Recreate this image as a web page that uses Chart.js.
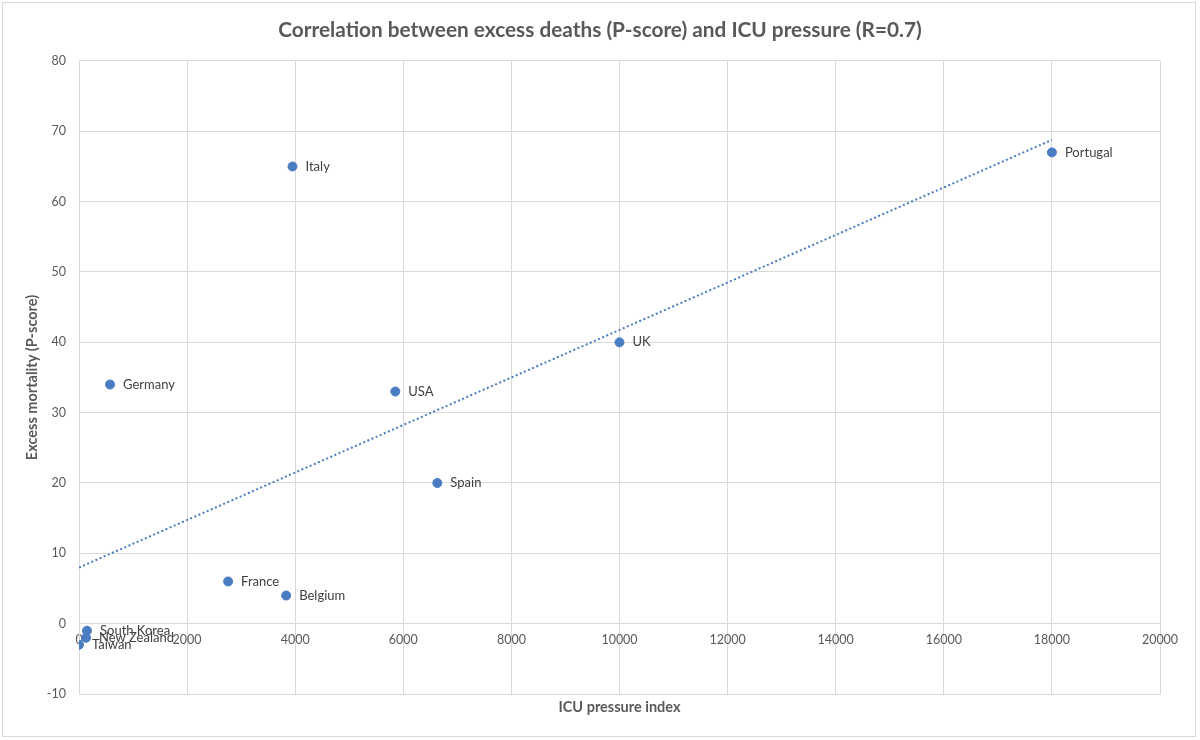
<!DOCTYPE html>
<html>
<head>
<meta charset="utf-8">
<script src="https://cdn.jsdelivr.net/npm/chart.js@4.4.1/dist/chart.umd.min.js"></script>
<style>
  html, body { margin: 0; padding: 0; background: #fff; }
  #wrap { position: relative; width: 1200px; height: 740px; }
</style>
</head>
<body>
<div id="wrap"><canvas id="chart" width="1200" height="740"></canvas></div>
<script>
// Data
const countries = ['Taiwan', 'New Zealand', 'South Korea', 'Germany', 'France', 'Belgium', 'Italy', 'USA', 'Spain', 'UK', 'Portugal'];
const icuIndex = [0, 130, 148, 574, 2759, 3833, 3950, 5852, 6630, 10000, 18000];
const pScore = [-3, -2, -1, 34, 6, 4, 65, 33, 20, 40, 67];
const trendX = [0, 18000];

const points = icuIndex.map((x, i) => ({ x: x, y: pScore[i] }));

// least squares trendline, as in the spreadsheet
const n = icuIndex.length;
const mx = icuIndex.reduce((a, b) => a + b, 0) / n;
const my = pScore.reduce((a, b) => a + b, 0) / n;
let sxy = 0, sxx = 0;
icuIndex.forEach((x, i) => {
  sxy += (x - mx) * (pScore[i] - my);
  sxx += (x - mx) * (x - mx);
});
const slope = sxy / sxx;
const intercept = my - slope * mx;
const trend = trendX.map(x => ({ x: x, y: intercept + slope * x }));

const blue = '#4A7CC2';
const gridColor = '#d9d9d9';
const font = 'Lato';

// country names next to each point
const pointLabels = {
  id: 'pointLabels',
  afterDatasetsDraw(chart) {
    const ctx = chart.ctx;
    const meta = chart.getDatasetMeta(0);
    ctx.save();
    ctx.font = '13px ' + font;
    ctx.fillStyle = '#404040';
    ctx.textBaseline = 'middle';
    ctx.textAlign = 'left';
    meta.data.forEach((el, i) => {
      ctx.fillText(countries[i], el.x + 13, el.y);
    });
    ctx.restore();
  }
};

// thin frame round the whole chart
const frame = {
  id: 'frame',
  beforeDraw(chart) {
    const ctx = chart.ctx;
    ctx.save();
    ctx.strokeStyle = '#d9d9d9';
    ctx.lineWidth = 1;
    ctx.strokeRect(2.5, 2.5, 1193, 734);
    ctx.restore();
  }
};

new Chart(document.getElementById('chart'), {
  type: 'scatter',
  data: {
    datasets: [{
      label: 'P-score',
      data: points,
      backgroundColor: blue,
      borderColor: blue,
      pointRadius: 4.5,
      order: 1
    }, {
      type: 'line',
      label: 'Trend',
      data: trend,
      borderColor: blue,
      borderWidth: 2,
      borderDash: [2, 2.5],
      pointRadius: 0,
      fill: false,
      order: 2
    }]
  },
  options: {
    responsive: false,
    animation: false,
    devicePixelRatio: 1,
    // equal side padding keeps the title centred on the page
    layout: { padding: { left: 40, right: 40, top: 0, bottom: 0 } },
    plugins: {
      legend: { display: false },
      tooltip: { enabled: false },
      title: {
        display: true,
        text: 'Correlation between excess deaths (P-score) and ICU pressure (R=0.7)',
        color: '#595959',
        font: { family: font, size: 20.8, weight: 'bold', lineHeight: 1.2 },
        padding: { top: 18, bottom: 18 }
      }
    },
    scales: {
      x: {
        type: 'linear',
        position: 'bottom',
        min: 0,
        max: 20000,
        ticks: { display: false, stepSize: 2000 },
        grid: { color: gridColor, drawTicks: false },
        border: { color: gridColor },
        title: {
          display: true,
          text: 'ICU pressure index',
          color: '#595959',
          font: { family: font, size: 14.5, weight: 'bold', lineHeight: 1.2 },
          padding: { top: 0, bottom: 24.3 }
        },
        afterFit(scale) { scale.height = 46; }
      },
      x2: {
        type: 'linear',
        axis: 'x',
        position: { y: 0 },
        min: 0,
        max: 20000,
        ticks: {
          stepSize: 2000,
          padding: 9,
          color: '#595959',
          font: { family: font, size: 12.5 },
          maxRotation: 0,
          autoSkip: false,
          callback: v => String(v)
        },
        grid: { display: false, drawTicks: false },
        border: { display: false }
      },
      y: {
        type: 'linear',
        position: 'left',
        min: -10,
        max: 80,
        ticks: {
          stepSize: 10,
          padding: 13,
          color: '#595959',
          font: { family: font, size: 12.5 }
        },
        grid: { color: gridColor, drawTicks: false },
        border: { color: gridColor },
        title: {
          display: true,
          text: 'Excess mortality (P-score)',
          color: '#595959',
          font: { family: font, size: 14.5, weight: 'bold', lineHeight: 1.2 },
          padding: { top: -16, bottom: 0 }
        },
        afterFit(scale) { scale.width = 39; }
      }
    }
  },
  plugins: [frame, pointLabels]
});
</script>
</body>
</html>
